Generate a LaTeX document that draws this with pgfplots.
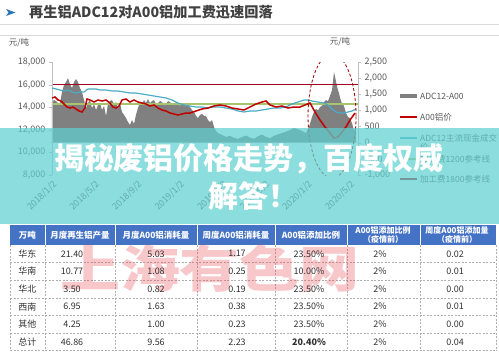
\documentclass[border=0pt]{standalone}
\usepackage{fontspec}
\setmainfont{Noto Sans CJK SC}
\usepackage{pgfplots}
\usepackage{pgfplotstable}
\pgfplotsset{compat=1.18}

\definecolor{gtxt}{RGB}{89,89,89}
\definecolor{axgray}{RGB}{191,191,191}
\definecolor{areagray}{RGB}{128,128,128}
\definecolor{a00red}{RGB}{192,0,0}
\definecolor{adcteal}{RGB}{75,172,198}
\definecolor{refgreen}{RGB}{169,196,110}
\definecolor{refred}{RGB}{165,0,33}
\definecolor{bannerc}{RGB}{96,208,208}
\definecolor{hdrblue}{RGB}{68,114,196}
\definecolor{wmred}{RGB}{235,70,80}
\definecolor{titlec}{RGB}{64,64,64}
\definecolor{arrowblue}{RGB}{46,117,182}
\definecolor{sepgray}{RGB}{217,217,217}
\definecolor{bodytxt}{RGB}{50,50,50}
\definecolor{gridc}{RGB}{175,175,175}

\pgfplotsset{/pgf/number format/assume math mode=true,
  /pgf/number format/1000 sep={,}}

% ADC12-A00 spread (right axis), x = months since 2018/1/2
\pgfplotstableread{
m v
0.00 1260
0.19 1320
0.38 1290
0.56 1230
0.75 1200
0.94 1570
1.13 1790
1.32 1880
1.50 2000
1.69 1820
1.88 1690
2.07 1880
2.26 1970
2.44 1880
2.63 1690
2.82 1570
3.01 1320
3.20 1070
3.38 1230
3.57 1320
3.76 1070
3.95 1200
4.14 1010
4.32 1170
4.51 1230
4.70 1010
4.89 1140
5.08 820
5.26 1200
5.45 1290
5.64 1320
5.83 1200
6.02 1260
6.20 1070
6.39 1230
6.58 950
6.77 860
6.95 765
7.14 640
7.33 550
7.52 700
7.71 580
7.89 860
8.08 1070
8.27 1260
8.46 1200
8.65 1320
8.83 1230
9.02 1350
9.21 1230
9.40 1290
9.59 1320
9.77 1200
9.96 1230
10.15 1290
10.34 1260
10.53 1170
10.71 1200
10.90 1290
11.09 1260
11.28 1200
11.47 1170
11.65 1260
11.84 1230
12.03 1140
12.22 1200
12.41 1170
12.59 1140
12.78 1200
12.97 1105
13.16 1010
13.35 950
13.53 830
13.72 765
13.91 860
14.10 890
14.29 830
14.47 830
14.66 700
14.85 640
15.04 700
15.23 485
15.41 360
15.60 300
15.98 240
16.35 180
16.73 210
17.11 150
17.48 120
17.86 180
18.23 220
18.61 160
18.98 120
19.36 200
19.74 250
20.11 180
20.49 140
20.86 210
21.24 260
21.62 300
21.99 340
22.37 390
22.74 455
23.12 420
23.50 360
23.87 300
24.15 480
24.44 800
24.62 950
24.81 1050
25.00 1000
25.19 1105
25.38 1140
25.56 1260
25.75 1320
25.94 1290
26.13 1450
26.32 1630
26.41 1900
26.50 2190
26.60 2050
26.69 1900
26.79 1750
26.88 1630
26.97 1540
27.07 1400
27.26 1200
27.44 1140
27.63 920
27.82 800
28.01 760
28.20 600
28.38 380
28.57 500
}\spread

% A00 price (left axis)
\pgfplotstableread{
m p
0.00 14815
0.28 14903
0.56 14638
0.85 14549
1.13 14284
1.41 14018
1.69 13930
1.97 14018
2.26 13841
2.54 13664
2.82 13576
3.10 13930
3.29 14726
3.57 14638
3.95 14461
4.32 14638
4.70 14549
5.08 14638
5.45 14372
5.73 14018
6.02 13930
6.30 14107
6.58 14638
6.95 14726
7.33 14461
7.71 14638
8.08 14461
8.46 14372
8.83 14284
9.21 14107
9.59 14195
9.96 13930
10.34 13753
10.71 13664
11.09 13487
11.47 13399
11.84 13310
12.22 13399
12.59 13487
12.97 13487
13.53 13664
14.10 13841
14.66 13930
15.23 14107
15.79 14195
16.35 14107
16.92 13930
17.48 13841
18.05 13753
18.61 14018
19.17 14284
19.74 14461
20.11 14549
20.49 14195
21.05 14018
21.62 14107
22.18 13930
22.74 14018
23.31 14018
23.78 14195
24.25 14372
24.72 13576
25.19 12868
25.66 12248
26.13 11717
26.50 11275
26.88 11363
27.26 11806
27.63 12248
28.01 12868
28.48 13487
}\aoo

% ADC12 cash price (left axis)
\pgfplotstableread{
m p
0.00 15700
0.38 15611
0.75 15523
1.13 15434
1.50 15523
1.88 15346
2.26 15257
2.63 15346
3.01 15346
3.38 15611
3.76 15611
4.14 15611
4.51 15523
5.08 15523
5.64 15434
6.20 15434
6.77 15346
7.33 15257
7.89 15257
8.46 15169
9.02 15080
9.59 14992
10.15 14903
10.71 14815
11.28 14638
11.84 14372
12.41 14195
12.97 14107
13.53 14018
14.10 14018
14.66 13930
15.23 14018
15.79 14018
16.35 13930
16.92 13841
17.48 13664
18.05 13576
18.61 13664
19.17 13664
19.74 13753
20.30 13841
20.86 13930
21.43 13930
21.99 14018
22.56 14284
23.12 14461
23.68 14638
24.06 14638
24.44 14549
25.00 14461
25.56 14372
25.94 14195
26.32 13841
26.69 13576
27.07 13487
27.44 13487
27.82 13576
28.20 13664
28.57 13841
}\adc

\begin{document}
\begin{tikzpicture}
\path[use as bounding box, fill=white] (0,0) rectangle (499pt,-354pt);

% ---- title ----
\fill[arrowblue] (6pt,-9pt) -- (15.5pt,-12.5pt) -- (6pt,-16pt) -- (8.5pt,-12.5pt) -- cycle;
\node[anchor=west, inner sep=0, text=titlec, font=\fontsize{14.2}{16}\selectfont\bfseries] at (29pt,-12.5pt) {再生铝ADC12对A00铝加工费迅速回落};
\draw[line width=0.6pt, sepgray] (0,-24pt) -- (499pt,-24pt);
\draw[line width=0.6pt, sepgray] (0,-35pt) -- (499pt,-35pt);

% axis unit labels
\node[text=gtxt, font=\fontsize{8.5}{10}\selectfont, inner sep=0] at (19pt,-43pt) {元/吨};
\node[text=gtxt, font=\fontsize{8.5}{10}\selectfont, inner sep=0] at (340pt,-42pt) {元/吨};

% ---- right axis: spread area + reference lines ----
\begin{axis}[
  at={(52pt,-175pt)}, anchor=south west,
  scale only axis, width=306pt, height=113pt,
  xmin=0, xmax=28.76,
  ymin=-1000, ymax=2500,
  axis x line=none,
  axis y line*=right,
  y axis line style={axgray},
  ytick={-1000,-500,...,2500},
  tick align=outside,
  major tick length=3pt,
  ytick style={axgray},
  yticklabel style={text=gtxt, font=\fontsize{9}{10}\selectfont},
  scaled y ticks=false,
]
\addplot[fill=areagray, draw=none] table[x=m, y=v] {\spread} \closedcycle;
\addplot[refgreen, line width=1.2pt] coordinates {(0,1200) (28.76,1200)};
\addplot[refred, line width=1.2pt] coordinates {(0,1800) (28.76,1800)};
\end{axis}

% ---- left axis: price lines ----
\begin{axis}[
  at={(52pt,-175pt)}, anchor=south west,
  scale only axis, width=306pt, height=113pt,
  xmin=0, xmax=28.76,
  ymin=8000, ymax=18000,
  axis y line*=left,
  axis x line*=bottom,
  x axis line style={draw=none},
  y axis line style={axgray},
  ytick={8000,10000,...,18000},
  xtick={0,4,...,28},
  xticklabels={2018/1/2,2018/5/2,2018/9/2,2019/1/2,2019/5/2,2019/9/2,2020/1/2,2020/5/2},
  xtick style={draw=none},
  ytick style={axgray},
  tick align=outside,
  major tick length=3pt,
  xticklabel style={rotate=45, anchor=north east, text=gtxt, font=\fontsize{9}{10}\selectfont, inner sep=1pt},
  yticklabel style={text=gtxt, font=\fontsize{9}{10}\selectfont},
  scaled y ticks=false,
]
\addplot[adcteal, line width=1.2pt] table[x=m, y=p] {\adc};
\addplot[a00red, line width=1.5pt] table[x=m, y=p] {\aoo};
\draw[a00red!85!black, line width=0.8pt, dash pattern=on 3pt off 2pt] (axis cs:26.32,13222) ellipse [x radius=24pt, y radius=62pt];
\end{axis}

% ---- legend ----
\fill[areagray] (400pt,-94.3pt) rectangle (416.5pt,-98.3pt);
\node[anchor=west, inner sep=0, text=gtxt, font=\fontsize{8.5}{10}\selectfont] at (420pt,-96pt) {ADC12-A00};
\draw[a00red, line width=1.5pt] (400pt,-117pt) -- (417pt,-117pt);
\node[anchor=west, inner sep=0, text=gtxt, font=\fontsize{8.5}{10}\selectfont] at (420pt,-117pt) {A00铝价};
\draw[adcteal, line width=1.2pt] (400pt,-138pt) -- (417pt,-138pt);
\node[anchor=west, inner sep=0, text=gtxt, font=\fontsize{8.5}{10}\selectfont] at (420pt,-138pt) {ADC12主流现金成交};
\node[anchor=west, inner sep=0, text=gtxt, font=\fontsize{8.5}{10}\selectfont] at (420pt,-147.5pt) {价};
\draw[refgreen, line width=1.2pt] (400pt,-159pt) -- (417pt,-159pt);
\node[anchor=west, inner sep=0, text=gtxt, font=\fontsize{8.5}{10}\selectfont] at (420pt,-159pt) {加工费1200参考线};
\draw[refred, line width=1.2pt] (400pt,-179pt) -- (417pt,-179pt);
\node[anchor=west, inner sep=0, text=gtxt, font=\fontsize{8.5}{10}\selectfont] at (420pt,-179pt) {加工费1800参考线};

% ---- banner ----
\fill[bannerc, opacity=0.72] (0,-128pt) rectangle (499pt,-224pt);
\node[text=white, inner sep=0, font=\fontsize{30}{32}\selectfont\bfseries] at (249pt,-159pt) {揭秘废铝价格走势，百度权威};
\node[text=white, inner sep=0, font=\fontsize{30}{32}\selectfont\bfseries] at (253pt,-196pt) {解答！};

% ---- table ----
\fill[hdrblue] (10pt,-225pt) rectangle (496pt,-245pt);
\foreach \x in {45,115,197,275,347,420}
  \draw[white, line width=0.6pt] (\x pt,-225pt) -- (\x pt,-245pt);
\foreach \y in {262.6,280.2,297.8,315.4,333.0,350.6}
  \draw[gridc, line width=0.5pt, dash pattern=on 2pt off 1.5pt] (10pt,-\y pt) -- (496pt,-\y pt);
\foreach \x in {10,45,115,197,275,347,420,496}
  \draw[gridc, line width=0.5pt, dash pattern=on 2pt off 1.5pt] (\x pt,-245pt) -- (\x pt,-350.6pt);

% watermark
\node[text=wmred, opacity=0.3, inner sep=0, xscale=1.2, font=\fontsize{50}{52}\selectfont\bfseries] at (210pt,-268pt) {上海有色网};

% header text
\begin{scope}[every node/.style={text=white, inner sep=0, font=\fontsize{8.5}{10}\selectfont\bfseries, align=center}]
\node at (27.5pt,-235pt) {万吨};
\node at (80pt,-235pt) {月度再生铝产量};
\node at (156pt,-235pt) {月度A00铝消耗量};
\node at (236pt,-235pt) {周度A00铝消耗量};
\node at (311pt,-235pt) {A00铝添加比例};
\node[font=\fontsize{8}{9.5}\selectfont\bfseries] at (383pt,-235pt) {A00铝添加比例\\（疫情前）};
\node[font=\fontsize{8}{9.5}\selectfont\bfseries] at (457pt,-235pt) {周度A00铝添加量\\（疫情前）};
\end{scope}

% body text
\begin{scope}[every node/.style={text=bodytxt, inner sep=0, font=\fontsize{9}{10}\selectfont}]
\foreach \lab/\a/\b/\c/\d/\e/\f [count=\i] in {
  华东/21.40/5.03/1.17/23.50\%/2\%/0.02,
  华南/10.77/1.08/0.25/10.00\%/2\%/0.01,
  华北/3.50/0.82/0.19/23.50\%/2\%/0.00,
  西南/6.95/1.63/0.38/23.50\%/2\%/0.01,
  其他/4.25/1.00/0.23/23.50\%/2\%/0.00,
  总计/46.86/9.56/2.23/{\bfseries 20.40\%}/2\%/0.04}{
  \pgfmathsetmacro\yy{-(245+17.6*(\i-0.5))}
  \node at (27.5pt,\yy pt) {\lab};
  \node at (72pt,\yy pt) {\a};
  \node at (156pt,\yy pt) {\b};
  \node at (237pt,\yy pt) {\c};
  \node at (309pt,\yy pt) {\d};
  \node at (380pt,\yy pt) {\e};
  \node at (455pt,\yy pt) {\f};
}
\end{scope}
\end{tikzpicture}
\end{document}
